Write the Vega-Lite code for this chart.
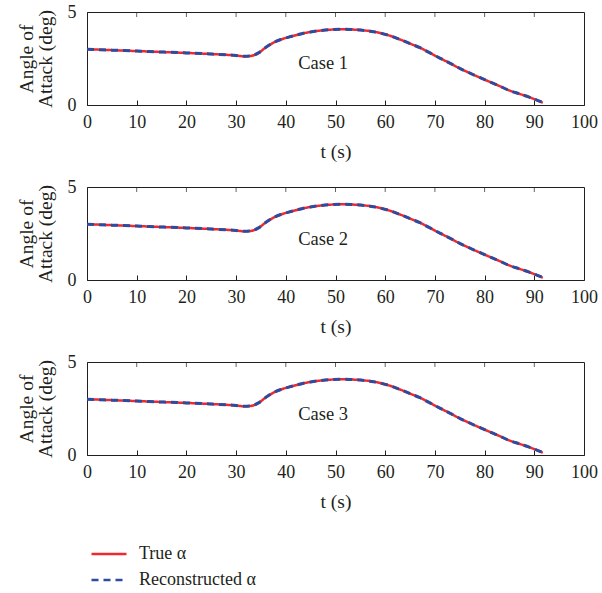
{
  "$schema": "https://vega.github.io/schema/vega-lite/v6.json",
  "background": "white",
  "padding": {"left": 15, "top": 2, "right": 5, "bottom": 5},
  "datasets": {
    "trajectory": [
      {"case": 1, "t": 0, "True α": 3.00, "Reconstructed α": 3.00},
      {"case": 1, "t": 5, "True α": 2.95, "Reconstructed α": 2.95},
      {"case": 1, "t": 10, "True α": 2.90, "Reconstructed α": 2.90},
      {"case": 1, "t": 15, "True α": 2.85, "Reconstructed α": 2.85},
      {"case": 1, "t": 20, "True α": 2.80, "Reconstructed α": 2.80},
      {"case": 1, "t": 25, "True α": 2.74, "Reconstructed α": 2.74},
      {"case": 1, "t": 30, "True α": 2.66, "Reconstructed α": 2.66},
      {"case": 1, "t": 31.5, "True α": 2.62, "Reconstructed α": 2.62},
      {"case": 1, "t": 33, "True α": 2.64, "Reconstructed α": 2.64},
      {"case": 1, "t": 34.5, "True α": 2.80, "Reconstructed α": 2.80},
      {"case": 1, "t": 36, "True α": 3.10, "Reconstructed α": 3.10},
      {"case": 1, "t": 37.5, "True α": 3.35, "Reconstructed α": 3.35},
      {"case": 1, "t": 39, "True α": 3.52, "Reconstructed α": 3.52},
      {"case": 1, "t": 41, "True α": 3.68, "Reconstructed α": 3.68},
      {"case": 1, "t": 43, "True α": 3.82, "Reconstructed α": 3.82},
      {"case": 1, "t": 45, "True α": 3.93, "Reconstructed α": 3.93},
      {"case": 1, "t": 47, "True α": 4.00, "Reconstructed α": 4.00},
      {"case": 1, "t": 49, "True α": 4.05, "Reconstructed α": 4.05},
      {"case": 1, "t": 51, "True α": 4.07, "Reconstructed α": 4.07},
      {"case": 1, "t": 53, "True α": 4.06, "Reconstructed α": 4.06},
      {"case": 1, "t": 55, "True α": 4.03, "Reconstructed α": 4.03},
      {"case": 1, "t": 57, "True α": 3.97, "Reconstructed α": 3.97},
      {"case": 1, "t": 59, "True α": 3.87, "Reconstructed α": 3.87},
      {"case": 1, "t": 61, "True α": 3.72, "Reconstructed α": 3.72},
      {"case": 1, "t": 63, "True α": 3.52, "Reconstructed α": 3.52},
      {"case": 1, "t": 65, "True α": 3.30, "Reconstructed α": 3.30},
      {"case": 1, "t": 67, "True α": 3.08, "Reconstructed α": 3.08},
      {"case": 1, "t": 69, "True α": 2.80, "Reconstructed α": 2.80},
      {"case": 1, "t": 71, "True α": 2.52, "Reconstructed α": 2.52},
      {"case": 1, "t": 73, "True α": 2.25, "Reconstructed α": 2.25},
      {"case": 1, "t": 75, "True α": 1.97, "Reconstructed α": 1.97},
      {"case": 1, "t": 77, "True α": 1.72, "Reconstructed α": 1.72},
      {"case": 1, "t": 79, "True α": 1.48, "Reconstructed α": 1.48},
      {"case": 1, "t": 81, "True α": 1.25, "Reconstructed α": 1.25},
      {"case": 1, "t": 83, "True α": 1.02, "Reconstructed α": 1.02},
      {"case": 1, "t": 85, "True α": 0.78, "Reconstructed α": 0.78},
      {"case": 1, "t": 87, "True α": 0.60, "Reconstructed α": 0.60},
      {"case": 1, "t": 89, "True α": 0.42, "Reconstructed α": 0.42},
      {"case": 1, "t": 90.5, "True α": 0.26, "Reconstructed α": 0.26},
      {"case": 1, "t": 91.7, "True α": 0.12, "Reconstructed α": 0.14},
      {"case": 2, "t": 0, "True α": 3.00, "Reconstructed α": 3.00},
      {"case": 2, "t": 5, "True α": 2.95, "Reconstructed α": 2.95},
      {"case": 2, "t": 10, "True α": 2.90, "Reconstructed α": 2.90},
      {"case": 2, "t": 15, "True α": 2.85, "Reconstructed α": 2.85},
      {"case": 2, "t": 20, "True α": 2.80, "Reconstructed α": 2.80},
      {"case": 2, "t": 25, "True α": 2.74, "Reconstructed α": 2.74},
      {"case": 2, "t": 30, "True α": 2.66, "Reconstructed α": 2.66},
      {"case": 2, "t": 31.5, "True α": 2.62, "Reconstructed α": 2.62},
      {"case": 2, "t": 33, "True α": 2.64, "Reconstructed α": 2.64},
      {"case": 2, "t": 34.5, "True α": 2.80, "Reconstructed α": 2.80},
      {"case": 2, "t": 36, "True α": 3.10, "Reconstructed α": 3.10},
      {"case": 2, "t": 37.5, "True α": 3.35, "Reconstructed α": 3.35},
      {"case": 2, "t": 39, "True α": 3.52, "Reconstructed α": 3.52},
      {"case": 2, "t": 41, "True α": 3.68, "Reconstructed α": 3.68},
      {"case": 2, "t": 43, "True α": 3.82, "Reconstructed α": 3.82},
      {"case": 2, "t": 45, "True α": 3.93, "Reconstructed α": 3.93},
      {"case": 2, "t": 47, "True α": 4.00, "Reconstructed α": 4.00},
      {"case": 2, "t": 49, "True α": 4.05, "Reconstructed α": 4.05},
      {"case": 2, "t": 51, "True α": 4.07, "Reconstructed α": 4.07},
      {"case": 2, "t": 53, "True α": 4.06, "Reconstructed α": 4.06},
      {"case": 2, "t": 55, "True α": 4.03, "Reconstructed α": 4.03},
      {"case": 2, "t": 57, "True α": 3.97, "Reconstructed α": 3.97},
      {"case": 2, "t": 59, "True α": 3.87, "Reconstructed α": 3.87},
      {"case": 2, "t": 61, "True α": 3.72, "Reconstructed α": 3.72},
      {"case": 2, "t": 63, "True α": 3.52, "Reconstructed α": 3.52},
      {"case": 2, "t": 65, "True α": 3.30, "Reconstructed α": 3.30},
      {"case": 2, "t": 67, "True α": 3.08, "Reconstructed α": 3.08},
      {"case": 2, "t": 69, "True α": 2.80, "Reconstructed α": 2.80},
      {"case": 2, "t": 71, "True α": 2.52, "Reconstructed α": 2.52},
      {"case": 2, "t": 73, "True α": 2.25, "Reconstructed α": 2.25},
      {"case": 2, "t": 75, "True α": 1.97, "Reconstructed α": 1.97},
      {"case": 2, "t": 77, "True α": 1.72, "Reconstructed α": 1.72},
      {"case": 2, "t": 79, "True α": 1.48, "Reconstructed α": 1.48},
      {"case": 2, "t": 81, "True α": 1.25, "Reconstructed α": 1.25},
      {"case": 2, "t": 83, "True α": 1.02, "Reconstructed α": 1.02},
      {"case": 2, "t": 85, "True α": 0.78, "Reconstructed α": 0.78},
      {"case": 2, "t": 87, "True α": 0.60, "Reconstructed α": 0.60},
      {"case": 2, "t": 89, "True α": 0.42, "Reconstructed α": 0.42},
      {"case": 2, "t": 90.5, "True α": 0.26, "Reconstructed α": 0.26},
      {"case": 2, "t": 91.7, "True α": 0.12, "Reconstructed α": 0.14},
      {"case": 3, "t": 0, "True α": 3.00, "Reconstructed α": 3.00},
      {"case": 3, "t": 5, "True α": 2.95, "Reconstructed α": 2.95},
      {"case": 3, "t": 10, "True α": 2.90, "Reconstructed α": 2.90},
      {"case": 3, "t": 15, "True α": 2.85, "Reconstructed α": 2.85},
      {"case": 3, "t": 20, "True α": 2.80, "Reconstructed α": 2.80},
      {"case": 3, "t": 25, "True α": 2.74, "Reconstructed α": 2.74},
      {"case": 3, "t": 30, "True α": 2.66, "Reconstructed α": 2.66},
      {"case": 3, "t": 31.5, "True α": 2.62, "Reconstructed α": 2.62},
      {"case": 3, "t": 33, "True α": 2.64, "Reconstructed α": 2.64},
      {"case": 3, "t": 34.5, "True α": 2.80, "Reconstructed α": 2.80},
      {"case": 3, "t": 36, "True α": 3.10, "Reconstructed α": 3.10},
      {"case": 3, "t": 37.5, "True α": 3.35, "Reconstructed α": 3.35},
      {"case": 3, "t": 39, "True α": 3.52, "Reconstructed α": 3.52},
      {"case": 3, "t": 41, "True α": 3.68, "Reconstructed α": 3.68},
      {"case": 3, "t": 43, "True α": 3.82, "Reconstructed α": 3.82},
      {"case": 3, "t": 45, "True α": 3.93, "Reconstructed α": 3.93},
      {"case": 3, "t": 47, "True α": 4.00, "Reconstructed α": 4.00},
      {"case": 3, "t": 49, "True α": 4.05, "Reconstructed α": 4.05},
      {"case": 3, "t": 51, "True α": 4.07, "Reconstructed α": 4.07},
      {"case": 3, "t": 53, "True α": 4.06, "Reconstructed α": 4.06},
      {"case": 3, "t": 55, "True α": 4.03, "Reconstructed α": 4.03},
      {"case": 3, "t": 57, "True α": 3.97, "Reconstructed α": 3.97},
      {"case": 3, "t": 59, "True α": 3.87, "Reconstructed α": 3.87},
      {"case": 3, "t": 61, "True α": 3.72, "Reconstructed α": 3.72},
      {"case": 3, "t": 63, "True α": 3.52, "Reconstructed α": 3.52},
      {"case": 3, "t": 65, "True α": 3.30, "Reconstructed α": 3.30},
      {"case": 3, "t": 67, "True α": 3.08, "Reconstructed α": 3.08},
      {"case": 3, "t": 69, "True α": 2.80, "Reconstructed α": 2.80},
      {"case": 3, "t": 71, "True α": 2.52, "Reconstructed α": 2.52},
      {"case": 3, "t": 73, "True α": 2.25, "Reconstructed α": 2.25},
      {"case": 3, "t": 75, "True α": 1.97, "Reconstructed α": 1.97},
      {"case": 3, "t": 77, "True α": 1.72, "Reconstructed α": 1.72},
      {"case": 3, "t": 79, "True α": 1.48, "Reconstructed α": 1.48},
      {"case": 3, "t": 81, "True α": 1.25, "Reconstructed α": 1.25},
      {"case": 3, "t": 83, "True α": 1.02, "Reconstructed α": 1.02},
      {"case": 3, "t": 85, "True α": 0.78, "Reconstructed α": 0.78},
      {"case": 3, "t": 87, "True α": 0.60, "Reconstructed α": 0.60},
      {"case": 3, "t": 89, "True α": 0.42, "Reconstructed α": 0.42},
      {"case": 3, "t": 90.5, "True α": 0.26, "Reconstructed α": 0.26},
      {"case": 3, "t": 91.7, "True α": 0.12, "Reconstructed α": 0.14}
    ],
    "labels": [
      {"case": 1, "t": 47.5, "alpha": 2.25, "label": "Case 1"},
      {"case": 2, "t": 47.5, "alpha": 2.2, "label": "Case 2"},
      {"case": 3, "t": 47.5, "alpha": 2.2, "label": "Case 3"}
    ],
    "topTicks": [
      {"t": 10}, {"t": 20}, {"t": 30}, {"t": 40}, {"t": 50},
      {"t": 60}, {"t": 70}, {"t": 80}, {"t": 90}
    ]
  },
  "config": {
    "font": "Liberation Serif",
    "view": {"stroke": "#231f20", "strokeWidth": 1},
    "axis": {
      "domain": false,
      "grid": false,
      "ticks": true,
      "tickColor": "#231f20",
      "tickSize": -5,
      "tickWidth": 1,
      "labelFont": "Liberation Serif",
      "labelFontSize": 18,
      "labelColor": "#231f20",
      "labelFlush": false,
      "labelOverlap": false,
      "labelBound": false,
      "titleFont": "Liberation Serif",
      "titleFontSize": 19.5,
      "titleFontWeight": "normal",
      "titleColor": "#231f20"
    },
    "legend": {
      "labelFont": "Liberation Serif",
      "labelFontSize": 18,
      "labelColor": "#231f20",
      "symbolType": "M-5,0H5",
      "symbolSize": 49,
      "symbolStrokeWidth": 2.5,
      "symbolFillColor": "transparent",
      "labelOffset": 21,
      "rowPadding": 8,
      "title": null
    },
    "concat": {"spacing": 16}
  },
  "vconcat": [
    {
      "width": 497,
      "height": 93,
      "layer": [
        {
          "data": {"name": "trajectory"},
          "transform": [
            {"filter": "datum.case == 1"},
            {"fold": ["True α", "Reconstructed α"], "as": ["series", "alpha"]},
            {"filter": "datum.series == 'True α'"}
          ],
          "mark": {"type": "line", "interpolate": "monotone", "strokeWidth": 2.5, "clip": true},
          "encoding": {
            "x": {"field": "t", "type": "quantitative", "scale": {"domain": [0, 100], "nice": false},
                  "axis": {"values": [0, 10, 20, 30, 40, 50, 60, 70, 80, 90, 100], "labelPadding": 13, "title": "t (s)", "titlePadding": 11}},
            "y": {"field": "alpha", "type": "quantitative", "scale": {"domain": [0, 5], "nice": false},
                  "axis": {"values": [0, 5], "labelPadding": 16, "title": ["Angle of", "Attack (deg)"], "titlePadding": 12, "titleLineHeight": 19}},
            "color": {"field": "series", "type": "nominal", "scale": {"domain": ["True α", "Reconstructed α"], "range": ["#ed2a2f", "#2f4b9f"]},
                      "legend": {"orient": "none", "legendX": 13, "legendY": 533, "direction": "vertical"}},
            "strokeDash": {"field": "series", "type": "nominal", "scale": {"domain": ["True α", "Reconstructed α"], "range": [[1, 0], [7, 5]]},
                           "legend": {"orient": "none", "legendX": 13, "legendY": 533, "direction": "vertical"}}
          }
        },
        {
          "data": {"name": "trajectory"},
          "transform": [
            {"filter": "datum.case == 1"},
            {"fold": ["True α", "Reconstructed α"], "as": ["series", "alpha"]},
            {"filter": "datum.series == 'Reconstructed α'"}
          ],
          "mark": {"type": "line", "interpolate": "monotone", "strokeWidth": 3, "clip": true},
          "encoding": {
            "x": {"field": "t", "type": "quantitative"},
            "y": {"field": "alpha", "type": "quantitative"},
            "color": {"field": "series", "type": "nominal"},
            "strokeDash": {"field": "series", "type": "nominal"}
          }
        },
        {
          "data": {"name": "topTicks"},
          "mark": {"type": "tick", "orient": "vertical", "size": 10, "thickness": 1, "color": "#231f20", "clip": true},
          "encoding": {
            "x": {"field": "t", "type": "quantitative"},
            "y": {"datum": 5, "type": "quantitative"}
          }
        },
        {
          "data": {"name": "labels"},
          "transform": [{"filter": "datum.case == 1"}],
          "mark": {"type": "text", "fontSize": 18.5, "font": "Liberation Serif", "color": "#231f20"},
          "encoding": {
            "x": {"field": "t", "type": "quantitative"},
            "y": {"field": "alpha", "type": "quantitative"},
            "text": {"field": "label"}
          }
        }
      ]
    },
    {
      "width": 497,
      "height": 93,
      "layer": [
        {
          "data": {"name": "trajectory"},
          "transform": [
            {"filter": "datum.case == 2"},
            {"fold": ["True α", "Reconstructed α"], "as": ["series", "alpha"]},
            {"filter": "datum.series == 'True α'"}
          ],
          "mark": {"type": "line", "interpolate": "monotone", "strokeWidth": 2.5, "clip": true},
          "encoding": {
            "x": {"field": "t", "type": "quantitative", "scale": {"domain": [0, 100], "nice": false},
                  "axis": {"values": [0, 10, 20, 30, 40, 50, 60, 70, 80, 90, 100], "labelPadding": 13, "title": "t (s)", "titlePadding": 11}},
            "y": {"field": "alpha", "type": "quantitative", "scale": {"domain": [0, 5], "nice": false},
                  "axis": {"values": [0, 5], "labelPadding": 16, "title": ["Angle of", "Attack (deg)"], "titlePadding": 12, "titleLineHeight": 19}},
            "color": {"field": "series", "type": "nominal", "scale": {"domain": ["True α", "Reconstructed α"], "range": ["#ed2a2f", "#2f4b9f"]}},
            "strokeDash": {"field": "series", "type": "nominal", "scale": {"domain": ["True α", "Reconstructed α"], "range": [[1, 0], [7, 5]]}}
          }
        },
        {
          "data": {"name": "trajectory"},
          "transform": [
            {"filter": "datum.case == 2"},
            {"fold": ["True α", "Reconstructed α"], "as": ["series", "alpha"]},
            {"filter": "datum.series == 'Reconstructed α'"}
          ],
          "mark": {"type": "line", "interpolate": "monotone", "strokeWidth": 3, "clip": true},
          "encoding": {
            "x": {"field": "t", "type": "quantitative"},
            "y": {"field": "alpha", "type": "quantitative"},
            "color": {"field": "series", "type": "nominal"},
            "strokeDash": {"field": "series", "type": "nominal"}
          }
        },
        {
          "data": {"name": "topTicks"},
          "mark": {"type": "tick", "orient": "vertical", "size": 10, "thickness": 1, "color": "#231f20", "clip": true},
          "encoding": {
            "x": {"field": "t", "type": "quantitative"},
            "y": {"datum": 5, "type": "quantitative"}
          }
        },
        {
          "data": {"name": "labels"},
          "transform": [{"filter": "datum.case == 2"}],
          "mark": {"type": "text", "fontSize": 18.5, "font": "Liberation Serif", "color": "#231f20"},
          "encoding": {
            "x": {"field": "t", "type": "quantitative"},
            "y": {"field": "alpha", "type": "quantitative"},
            "text": {"field": "label"}
          }
        }
      ]
    },
    {
      "width": 497,
      "height": 93,
      "layer": [
        {
          "data": {"name": "trajectory"},
          "transform": [
            {"filter": "datum.case == 3"},
            {"fold": ["True α", "Reconstructed α"], "as": ["series", "alpha"]},
            {"filter": "datum.series == 'True α'"}
          ],
          "mark": {"type": "line", "interpolate": "monotone", "strokeWidth": 2.5, "clip": true},
          "encoding": {
            "x": {"field": "t", "type": "quantitative", "scale": {"domain": [0, 100], "nice": false},
                  "axis": {"values": [0, 10, 20, 30, 40, 50, 60, 70, 80, 90, 100], "labelPadding": 13, "title": "t (s)", "titlePadding": 11}},
            "y": {"field": "alpha", "type": "quantitative", "scale": {"domain": [0, 5], "nice": false},
                  "axis": {"values": [0, 5], "labelPadding": 16, "title": ["Angle of", "Attack (deg)"], "titlePadding": 12, "titleLineHeight": 19}},
            "color": {"field": "series", "type": "nominal", "scale": {"domain": ["True α", "Reconstructed α"], "range": ["#ed2a2f", "#2f4b9f"]}},
            "strokeDash": {"field": "series", "type": "nominal", "scale": {"domain": ["True α", "Reconstructed α"], "range": [[1, 0], [7, 5]]}}
          }
        },
        {
          "data": {"name": "trajectory"},
          "transform": [
            {"filter": "datum.case == 3"},
            {"fold": ["True α", "Reconstructed α"], "as": ["series", "alpha"]},
            {"filter": "datum.series == 'Reconstructed α'"}
          ],
          "mark": {"type": "line", "interpolate": "monotone", "strokeWidth": 3, "clip": true},
          "encoding": {
            "x": {"field": "t", "type": "quantitative"},
            "y": {"field": "alpha", "type": "quantitative"},
            "color": {"field": "series", "type": "nominal"},
            "strokeDash": {"field": "series", "type": "nominal"}
          }
        },
        {
          "data": {"name": "topTicks"},
          "mark": {"type": "tick", "orient": "vertical", "size": 10, "thickness": 1, "color": "#231f20", "clip": true},
          "encoding": {
            "x": {"field": "t", "type": "quantitative"},
            "y": {"datum": 5, "type": "quantitative"}
          }
        },
        {
          "data": {"name": "labels"},
          "transform": [{"filter": "datum.case == 3"}],
          "mark": {"type": "text", "fontSize": 18.5, "font": "Liberation Serif", "color": "#231f20"},
          "encoding": {
            "x": {"field": "t", "type": "quantitative"},
            "y": {"field": "alpha", "type": "quantitative"},
            "text": {"field": "label"}
          }
        }
      ]
    }
  ]
}
